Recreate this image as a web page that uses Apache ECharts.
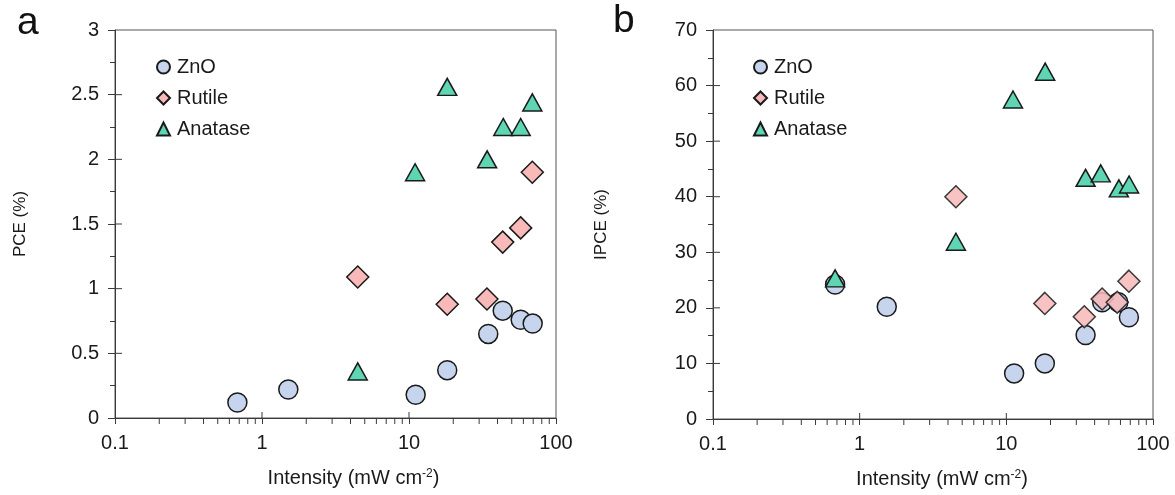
<!DOCTYPE html>
<html>
<head>
<meta charset="utf-8">
<script src="https://cdn.jsdelivr.net/npm/echarts@6/dist/echarts.min.js"></script>
<style>
html, body { margin: 0; padding: 0; background: #fff; }
#main { width: 1175px; height: 495px; }
</style>
</head>
<body>
<div id="main"></div>
<script>
// data: [intensity mW cm-2, value]
var pceZnO = [[0.68, 0.12], [1.51, 0.22], [11.1, 0.18], [18.2, 0.37], [34.6, 0.65], [43.4, 0.83], [57.5, 0.76], [69.4, 0.73]];
var pceRutile = [[4.48, 1.09], [18.2, 0.88], [33.9, 0.92], [43.4, 1.36], [57.5, 1.47], [69, 1.90]];
var pceAnatase = [[4.48, 0.36], [11.0, 1.90], [18.2, 2.56], [34.0, 2.00], [43.8, 2.25], [57.5, 2.25], [69, 2.44]];

var ipceZnO = [[0.68, 24.2], [1.53, 20.2], [11.3, 8.2], [18.3, 10.0], [34.7, 15.1], [45, 21.0], [58, 21.0], [68.5, 18.3]];
var ipceRutile = [[4.53, 40.0], [18.3, 20.8], [34, 18.4], [45, 21.6], [57, 21.0], [68.5, 24.8]];
var ipceAnatase = [[0.68, 25.3], [4.53, 31.9], [11.1, 57.5], [18.4, 62.5], [34.7, 43.4], [44, 44.2], [58.5, 41.5], [68.7, 42.2]];

var xMajor = [0.1, 1, 10, 100];
var xMinor = [0.2, 0.3, 0.4, 0.5, 0.6, 0.7, 0.8, 0.9, 2, 3, 4, 5, 6, 7, 8, 9, 20, 30, 40, 50, 60, 70, 80, 90];
var pceTicks = [0, 0.5, 1, 1.5, 2, 2.5, 3];
var ipceTicks = [0, 10, 20, 30, 40, 50, 60, 70];

var names = ['ZnO', 'Rutile', 'Anatase'];
var fills = ['#c6d4ee', '#f8b9b8', '#5ed6b4'];
var FONT = 'Liberation Sans, Arial, sans-serif';
var AX = '#3a3a3a';
var TXT = '#1a1a1a';

var chart = echarts.init(document.getElementById('main'));

function xAxisOf(idx) {
	return {
		type: 'log', logBase: 10, min: 0.1, max: 100, gridIndex: idx,
		name: '{t|Intensity (mW cm}{s|-2}{t|)}',
		nameLocation: 'middle', nameGap: 50,
		nameTextStyle: {
			padding: [0, 0, 0, idx == 0 ? 36 : 18],
			rich: {
				t: { fontFamily: FONT, fontSize: 20, color: TXT },
				s: { fontFamily: FONT, fontSize: 12, color: TXT, verticalAlign: 'top', padding: [0, 0, 9, 0] }
			}
		},
		axisLine: { show: true, lineStyle: { color: AX, width: 1 } },
		axisTick: { show: true, length: 6, lineStyle: { color: AX } },
		splitLine: { show: false },
		axisLabel: {
			fontFamily: FONT, fontSize: 20, color: TXT, margin: 15,
			formatter: function (v) { return String(v); }
		}
	};
}

function yAxisOf(idx, ticks, name, gap) {
	return {
		type: 'value', gridIndex: idx,
		min: ticks[0], max: ticks[ticks.length - 1], interval: ticks[1] - ticks[0],
		name: name, nameLocation: 'middle', nameGap: gap, nameRotate: 90,
		nameTextStyle: { fontFamily: FONT, fontSize: 17, color: TXT },
		axisLine: { show: true, lineStyle: { color: AX, width: 1 } },
		axisTick: { show: true, length: 7, lineStyle: { color: AX } },
		minorTick: { show: true, splitNumber: 2, length: 5, lineStyle: { color: AX } },
		splitLine: { show: false },
		axisLabel: { fontFamily: FONT, fontSize: 20, color: TXT, margin: 16 }
	};
}

function scatter(idx, k, data, opacity) {
	var sym = ['circle', 'diamond', 'triangle'][k];
	var size = [19, 22, [19, 17]][k];
	return {
		type: 'scatter', name: names[k], xAxisIndex: idx, yAxisIndex: idx,
		data: data, symbol: sym, symbolSize: size,
		itemStyle: { color: fills[k], borderColor: '#1a1a1a', borderWidth: 1.5, opacity: opacity || 1 },
		emphasis: { disabled: true }
	};
}

// extra ticks: x minor ticks below the axis, inner halves of major ticks
function tickSeries(idx, ticks) {
	var ymin = ticks[0];
	var data = [];
	xMinor.forEach(function (v) { data.push([v, ymin, 0]); });
	xMajor.slice(1, 3).forEach(function (v) { data.push([v, ymin, 1]); });
	ticks.slice(1, ticks.length - 1).forEach(function (v) { data.push([0.1, v, 2]); });
	return {
		type: 'custom', xAxisIndex: idx, yAxisIndex: idx, silent: true, z: 1,
		data: data,
		renderItem: function (params, api) {
			var p = api.coord([api.value(0), api.value(1)]);
			var kind = api.value(2);
			var s = { x1: p[0], y1: p[1], x2: p[0], y2: p[1] + 6 };
			if (kind == 1) s = { x1: p[0], y1: p[1], x2: p[0], y2: p[1] - 6 };
			if (kind == 2) s = { x1: p[0], y1: p[1], x2: p[0] + 7, y2: p[1] };
			return { type: 'line', shape: s, style: { stroke: AX, lineWidth: 1 } };
		}
	};
}

function legendOf(left) {
	return {
		orient: 'vertical', left: left, top: 52, itemGap: 11,
		itemWidth: 13, itemHeight: 13, data: names,
		selectedMode: false,
		textStyle: { fontFamily: FONT, fontSize: 20, color: TXT, padding: [0, 0, 0, 2] }
	};
}

var option = {
	animation: false,
	backgroundColor: '#fff',
	grid: [
		{ left: 115, top: 30, width: 441, height: 388, show: true, borderColor: '#555', borderWidth: 1 },
		{ left: 713, top: 30, width: 440, height: 389, show: true, borderColor: '#555', borderWidth: 1 }
	],
	xAxis: [xAxisOf(0), xAxisOf(1)],
	yAxis: [yAxisOf(0, pceTicks, 'PCE (%)', 86), yAxisOf(1, ipceTicks, 'IPCE (%)', 103)],
	legend: [legendOf(151), legendOf(748)],
	graphic: [
		{ type: 'text', left: 17, top: 4, style: { text: 'a', fontFamily: FONT, fontSize: 39, fill: '#111' } },
		{ type: 'text', left: 613, top: 2, style: { text: 'b', fontFamily: FONT, fontSize: 39, fill: '#111' } }
	],
	series: [
		tickSeries(0, pceTicks),
		tickSeries(1, ipceTicks),
		scatter(0, 0, pceZnO),
		scatter(0, 1, pceRutile),
		scatter(0, 2, pceAnatase),
		scatter(1, 0, ipceZnO),
		scatter(1, 1, ipceRutile, 0.85),
		scatter(1, 2, ipceAnatase)
	]
};

chart.setOption(option);
</script>
</body>
</html>
